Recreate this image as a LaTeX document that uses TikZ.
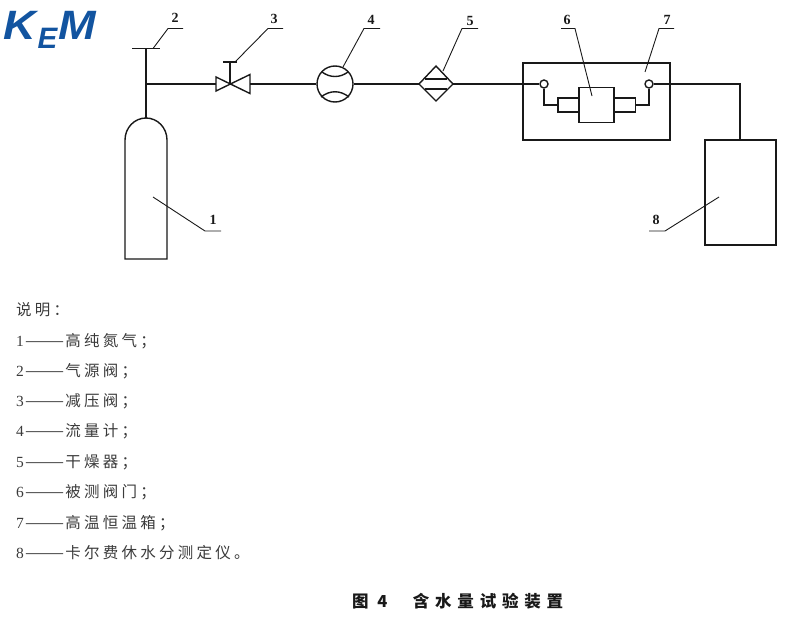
\documentclass[tikz,border=0pt]{standalone}
\usepackage{fontspec}
\setmainfont{Liberation Serif}
\newfontfamily\cjk{Noto Sans CJK SC}[LetterSpace=21]
\newfontfamily\cjkcap{Noto Sans CJK SC}[LetterSpace=35]
\newfontfamily\logof{Liberation Sans}
\newcommand{\lgd}[2]{{\rmfamily #1}\kern1pt\scalebox{1.52}[1]{\addfontfeatures{LetterSpace=0}——}\kern1pt #2}
\definecolor{logoblue}{RGB}{18,84,160}
\definecolor{ink}{RGB}{25,25,25}
\tikzset{
  x=1pt,y=-1pt,
  pipe/.style={draw=ink,line width=1.4pt},
  leader/.style={draw=ink,line width=0.9pt},
  num/.style={font=\fontsize{14}{14}\selectfont\bfseries,text=ink,inner sep=0pt,anchor=center},
  legend/.style={font=\fontsize{15.5}{16}\selectfont\cjk,text=ink!85,inner sep=0pt,anchor=west},
  logol/.style={font=\fontsize{41}{41}\selectfont\logof\bfseries\itshape,text=logoblue,inner sep=0pt,anchor=center}
}
\begin{document}
\begin{tikzpicture}
\useasboundingbox (0,0) rectangle (810,621);
% logo
\node[logol,xscale=1.1] (lk) at (20,25) {K};
\node[logol,xscale=0.72,yscale=0.72] (le) at (47.5,38) {E};
\node[logol,xscale=1.1] (lm) at (77.5,25) {M};
% bottle
\coordinate (bt) at (146,118);
\path[pipe] (125,259) -- (125,140) arc[start angle=180,end angle=0,x radius=21,y radius=-22] -- (167,259) -- cycle;
\coordinate (h1) at (132,48.5); \coordinate (h2) at (160,48.5);
\coordinate (stemtop) at (146,48.5);
\path[pipe] (h1) -- (h2);
\path[pipe] (stemtop) -- (bt);
\coordinate (tee) at (146,84);
% valve
\coordinate (v) at (230,84);
\path[pipe] (tee) -- (216,84);
\path[pipe] (216,77) -- (250,93.5) -- (250,74.5) -- (216,91) -- cycle;
\path[pipe] (v) -- (230,62);
\path[pipe] (223,62) -- (237,62);
% flowmeter
\node[circle,pipe,minimum size=36pt,inner sep=0pt] (fm) at (335,84) {};
\path[pipe] (250,84) -- (fm.west);
\path[pipe] (322,72) .. controls (330,78) and (340,78) .. (348,72);
\path[pipe] (321,97) .. controls (330,90) and (340,90) .. (349,97);
% dryer
\coordinate (dl) at (419,84); \coordinate (dr) at (453,84);
\path[pipe] (fm.east) -- (dl);
\path[pipe] (436,66) -- (dr) -- (436,101) -- (dl) -- cycle;
\path[pipe] (425,79) -- (447,79);
\path[pipe] (425,89) -- (447,89);
% oven
\node[pipe,minimum width=147pt,minimum height=77pt,inner sep=0pt] (ov) at (596.5,101.5) {};
\node[pipe,circle,minimum size=8pt,inner sep=0pt,fill=white] (pl) at (544,84) {};
\node[pipe,circle,minimum size=8pt,inner sep=0pt,fill=white] (pr) at (649,84) {};
\path[pipe] (dr) -- (pl.west);
% tested valve
\node[pipe,minimum width=35pt,minimum height=35pt,inner sep=0pt] (tv) at (596.5,105) {};
\node[pipe,minimum width=21pt,minimum height=14pt,inner sep=0pt] (sl) at (568.5,105) {};
\node[pipe,minimum width=21pt,minimum height=14pt,inner sep=0pt] (sr) at (625,105) {};
\path[pipe] (pl.south) |- (sl.west);
\path[pipe] (pr.south) |- (sr.east);
% analyser
\node[pipe,minimum width=71pt,minimum height=105pt,inner sep=0pt] (an) at (740.5,192.5) {};
\path[pipe] (pr.east) -| (740,140);
% leaders
\path[leader] (153,197) -- (205,231) -- (221,231);
\node[num] (n1) at (213,220) {1};
\path[leader] (153,48.5) -- (168,28.5) -- (183,28.5);
\node[num] (n2) at (175,18) {2};
\path[leader] (235,62) -- (268,28.5) -- (283,28.5);
\node[num] (n3) at (274,19) {3};
\path[leader] (343,67) -- (364,28.5) -- (380,28.5);
\node[num] (n4) at (371,20) {4};
\path[leader] (443,71) -- (462,28.5) -- (478,28.5);
\node[num] (n5) at (470,21) {5};
\path[leader] (592,96) -- (575,28.5) -- (561,28.5);
\node[num] (n6) at (567,20) {6};
\path[leader] (645,72) -- (659,28.5) -- (674,28.5);
\node[num] (n7) at (667,20) {7};
\path[leader] (719,197) -- (665,231) -- (649,231);
\node[num] (n8) at (656,220) {8};
% legend
\node[legend] (t0) at (16,310) {说明：};
\node[legend] (t1) at (16,341) {\lgd{1}{高纯氮气；}};
\node[legend] (t2) at (16,371) {\lgd{2}{气源阀；}};
\node[legend] (t3) at (16,401) {\lgd{3}{减压阀；}};
\node[legend] (t4) at (16,431) {\lgd{4}{流量计；}};
\node[legend] (t5) at (16,462) {\lgd{5}{干燥器；}};
\node[legend] (t6) at (16,492) {\lgd{6}{被测阀门；}};
\node[legend] (t7) at (16,523) {\lgd{7}{高温恒温箱；}};
\node[legend] (t8) at (16,553) {\lgd{8}{卡尔费休水分测定仪。}};
\node[font=\fontsize{16.5}{17}\selectfont\cjkcap\bfseries,text=ink,inner sep=0pt,anchor=west] (cap) at (352,601) {图\kern8.7pt 4\kern25.5pt 含水量试验装置};
\end{tikzpicture}
\end{document}
